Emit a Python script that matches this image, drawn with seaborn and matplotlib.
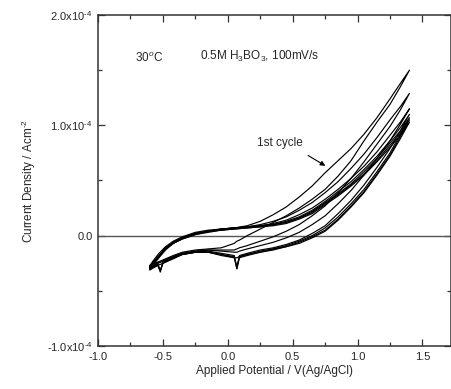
import numpy as np
import matplotlib
matplotlib.use('Agg')
import matplotlib.pyplot as plt
import seaborn as sns

# Potentials (V vs Ag/AgCl) for the anodic and cathodic sweeps
fwd_v = [-0.60, -0.57, -0.53, -0.48, -0.42, -0.35, -0.25, -0.15, -0.05, 0.05, 0.15, 0.25,
         0.35, 0.45, 0.55, 0.65, 0.75, 0.85, 0.95, 1.05, 1.15, 1.25, 1.33, 1.40]
rev_v = [1.40, 1.33, 1.25, 1.15, 1.05, 0.95, 0.85, 0.75, 0.65, 0.55, 0.45, 0.35, 0.25, 0.15,
         0.09, 0.07, 0.05, -0.05, -0.15, -0.25, -0.35, -0.42, -0.48, -0.50, -0.52, -0.54, -0.57, -0.60]

# Current density in units of 1e-4 A/cm2, one forward / reverse pair per cycle
fwd_c1 = [-0.27, -0.22, -0.16, -0.10, -0.05, -0.01, 0.03, 0.05, 0.06, 0.07, 0.09, 0.13,
          0.19, 0.26, 0.35, 0.45, 0.57, 0.68, 0.79, 0.92, 1.07, 1.24, 1.38, 1.50]
rev_c1 = [1.50, 1.35, 1.19, 1.03, 0.86, 0.68, 0.54, 0.42, 0.33, 0.25, 0.18, 0.12, 0.06, 0.00,
          -0.04, -0.05, -0.07, -0.11, -0.12, -0.13, -0.15, -0.18, -0.21, -0.22, -0.23, -0.24, -0.25, -0.27]
fwd_c2 = [-0.28, -0.23, -0.18, -0.11, -0.06, -0.02, 0.02, 0.04, 0.06, 0.07, 0.08, 0.10,
          0.13, 0.17, 0.23, 0.30, 0.39, 0.49, 0.61, 0.74, 0.89, 1.05, 1.17, 1.29]
rev_c2 = [1.29, 1.14, 0.99, 0.83, 0.67, 0.52, 0.39, 0.27, 0.18, 0.10, 0.04, -0.01, -0.05, -0.09,
          -0.11, -0.12, -0.13, -0.13, -0.13, -0.14, -0.16, -0.19, -0.22, -0.23, -0.24, -0.25, -0.26, -0.28]
fwd_c3 = [-0.29, -0.24, -0.18, -0.11, -0.06, -0.02, 0.02, 0.04, 0.06, 0.07, 0.08, 0.09,
          0.11, 0.14, 0.19, 0.25, 0.33, 0.42, 0.52, 0.63, 0.76, 0.91, 1.03, 1.15]
rev_c3 = [1.15, 1.01, 0.86, 0.70, 0.55, 0.41, 0.29, 0.18, 0.10, 0.03, -0.02, -0.06, -0.09, -0.12,
          -0.14, -0.15, -0.15, -0.14, -0.13, -0.14, -0.16, -0.19, -0.22, -0.23, -0.24, -0.25, -0.27, -0.29]
fwd_c4 = [-0.29, -0.24, -0.19, -0.12, -0.06, -0.02, 0.02, 0.04, 0.06, 0.07, 0.08, 0.09,
          0.10, 0.13, 0.17, 0.23, 0.31, 0.40, 0.49, 0.60, 0.72, 0.86, 0.98, 1.10]
rev_c4 = [1.10, 0.95, 0.79, 0.62, 0.46, 0.32, 0.20, 0.09, 0.02, -0.04, -0.08, -0.11, -0.13, -0.16,
          -0.18, -0.30, -0.18, -0.16, -0.14, -0.15, -0.17, -0.20, -0.23, -0.24, -0.33, -0.25, -0.27, -0.29]
fwd_c5 = [-0.30, -0.25, -0.19, -0.12, -0.07, -0.02, 0.02, 0.04, 0.05, 0.07, 0.08, 0.09,
          0.10, 0.12, 0.16, 0.22, 0.30, 0.38, 0.47, 0.58, 0.70, 0.84, 0.95, 1.07]
rev_c5 = [1.07, 0.92, 0.75, 0.58, 0.42, 0.29, 0.17, 0.07, 0.00, -0.05, -0.09, -0.12, -0.14, -0.17,
          -0.19, -0.28, -0.19, -0.17, -0.15, -0.15, -0.17, -0.20, -0.23, -0.25, -0.31, -0.26, -0.28, -0.30]
fwd_c6 = [-0.30, -0.25, -0.19, -0.12, -0.07, -0.03, 0.01, 0.04, 0.05, 0.06, 0.07, 0.08,
          0.10, 0.12, 0.16, 0.21, 0.29, 0.37, 0.46, 0.56, 0.68, 0.82, 0.93, 1.05]
rev_c6 = [1.05, 0.90, 0.73, 0.56, 0.40, 0.27, 0.15, 0.05, -0.01, -0.06, -0.10, -0.12, -0.15, -0.17,
          -0.19, -0.20, -0.20, -0.17, -0.15, -0.15, -0.17, -0.20, -0.24, -0.25, -0.26, -0.27, -0.28, -0.30]
fwd_c7 = [-0.31, -0.26, -0.20, -0.13, -0.07, -0.03, 0.01, 0.03, 0.05, 0.06, 0.07, 0.08,
          0.09, 0.11, 0.15, 0.20, 0.28, 0.36, 0.45, 0.55, 0.67, 0.80, 0.91, 1.03]
rev_c7 = [1.03, 0.88, 0.72, 0.55, 0.39, 0.26, 0.14, 0.04, -0.02, -0.07, -0.10, -0.13, -0.15, -0.18,
          -0.20, -0.30, -0.20, -0.18, -0.15, -0.15, -0.17, -0.21, -0.24, -0.25, -0.32, -0.27, -0.29, -0.31]

x_ticks = [-1.0, -0.5, 0.0, 0.5, 1.0, 1.5]
x_ticklabels = ['-1.0', '-0.5', '0.0', '0.5', '1.0', '1.5']
y_ticks = [-1.0, 0.0, 1.0, 2.0]
y_ticklabels = [r'-1.0x10$^{\text{-4}}$', '0.0', r'1.0x10$^{\text{-4}}$', r'2.0x10$^{\text{-4}}$']

sns.set_style('ticks')
plt.rcParams['font.family'] = ['Liberation Sans', 'DejaVu Sans']
plt.rcParams['mathtext.fontset'] = 'custom'
plt.rcParams['mathtext.rm'] = 'Liberation Sans'
plt.rcParams['mathtext.it'] = 'Liberation Sans:italic'
plt.rcParams['mathtext.bf'] = 'Liberation Sans:bold'
plt.rcParams['axes.unicode_minus'] = False

fig = plt.figure(figsize=(4.52, 3.89), dpi=100)
ax = fig.add_axes([0.2168, 0.1105, 0.781, 0.851])

ax.axhline(0, color='#555555', lw=1.0, zorder=1)

cycles = [(fwd_c1, rev_c1), (fwd_c2, rev_c2), (fwd_c3, rev_c3), (fwd_c4, rev_c4),
          (fwd_c5, rev_c5), (fwd_c6, rev_c6), (fwd_c7, rev_c7)]
for fwd, rev in cycles:
    sns.lineplot(x=np.concatenate([fwd_v, rev_v]), y=np.concatenate([fwd, rev]),
                 sort=False, estimator=None, color='black', lw=0.85, ax=ax)

ax.set_xlim(-1.0, 1.72)
ax.set_ylim(-1.0, 2.0)
ax.set_xticks(x_ticks)
ax.set_xticklabels(x_ticklabels)
ax.set_yticks(y_ticks)
ax.set_yticklabels(y_ticklabels)
ax.set_xticks([-0.75, -0.25, 0.25, 0.75, 1.25], minor=True)
ax.set_yticks([-0.5, 0.5, 1.5], minor=True)
ax.tick_params(which='both', direction='in', top=True, right=True, color='#333333',
               labelsize=8, width=0.9)
ax.tick_params(axis='x', which='major', length=5, pad=4.5)
ax.tick_params(axis='y', which='major', length=5, pad=4)
ax.tick_params(which='minor', length=3)
for s in ax.spines.values():
    s.set_color('#333333')
    s.set_linewidth(1.1)

ax.set_xlabel('Applied Potential / V(Ag/AgCl)', fontsize=8.5, labelpad=2)
ax.set_ylabel(r'Current Density / Acm$^{\text{-2}}$', fontsize=8.5, labelpad=6)

ax.text(-0.715, 1.61, '30$^{o}$C', fontsize=8.5, va='center', ha='left')
ax.text(-0.215, 1.62, '0.5M H$_3$BO$_3$, 100mV/s', fontsize=8.5, va='center', ha='left')
ax.annotate('', xy=(0.77, 0.62), xytext=(0.60, 0.74),
            arrowprops=dict(arrowstyle='-|>', color='black', lw=0.8, mutation_scale=7))
ax.text(0.223, 0.84, '1st cycle', fontsize=8.5, va='center', ha='left')

plt.savefig('out.png', dpi=100)
